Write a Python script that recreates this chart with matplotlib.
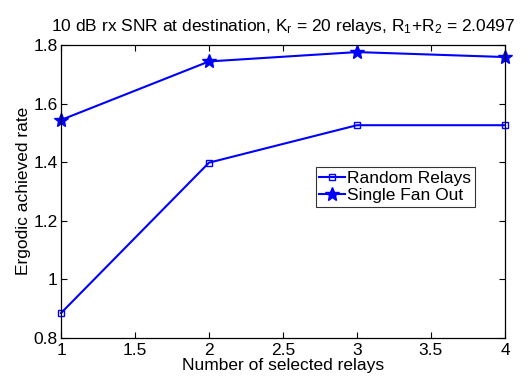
import matplotlib
matplotlib.use("Agg")
import matplotlib.pyplot as plt

plt.rcParams['font.family'] = ['Liberation Sans', 'DejaVu Sans']
plt.rcParams['mathtext.fontset'] = 'custom'
plt.rcParams['mathtext.rm'] = 'Liberation Sans'
plt.rcParams['mathtext.it'] = 'Liberation Sans'

x = [1, 2, 3, 4]
random_relays = [0.884, 1.398, 1.526, 1.526]
single_fan_out = [1.544, 1.744, 1.776, 1.759]
xticks = [1, 1.5, 2, 2.5, 3, 3.5, 4]
xticklabels = ['1', '1.5', '2', '2.5', '3', '3.5', '4']
yticks = [0.8, 1.0, 1.2, 1.4, 1.6, 1.8]
yticklabels = ['0.8', '1', '1.2', '1.4', '1.6', '1.8']

FS = 12.5
fig = plt.figure(figsize=(5.26, 3.85), dpi=100)
ax = fig.add_axes([0.116, 0.123, 0.844, 0.760])
ax.plot(x, random_relays, color='#0000ff', lw=1.5, marker='s', ms=5,
        mfc='none', mec='#0000ff', mew=1.0, label='Random Relays', clip_on=False)
ax.plot(x, single_fan_out, color='#0000ff', lw=1.5, marker='*', ms=10,
        mfc='#0000ff', mec='#0000ff', label='Single Fan Out', clip_on=False)
ax.set_xlim(1, 4)
ax.set_ylim(0.8, 1.8)
ax.set_xticks(xticks)
ax.set_xticklabels(xticklabels)
ax.set_yticks(yticks)
ax.set_yticklabels(yticklabels)
ax.tick_params(direction='in', top=True, right=True, labelsize=FS, length=4, width=0.8)
ax.tick_params(axis='x', pad=3.5)
ax.tick_params(axis='y', pad=2.5)
for s in ax.spines.values():
    s.set_linewidth(0.9)
ax.set_xlabel('Number of selected relays', fontsize=FS, labelpad=0.5)
ax.set_ylabel('Ergodic achieved rate', fontsize=FS, labelpad=2)
ax.set_title(r'10 dB rx SNR at destination, K$_{\rm r}$ = 20 relays, R$_{\rm 1}$+R$_{\rm 2}$ = 2.0497',
             fontsize=FS, pad=10)
leg = ax.legend(loc='upper left', bbox_to_anchor=(0.574, 0.582), fontsize=FS,
                frameon=True, fancybox=False, edgecolor='black', borderpad=0.2,
                handlelength=1.5, handletextpad=0.1, labelspacing=0.12, borderaxespad=0)
leg.get_frame().set_linewidth(0.8)
fig.savefig('out.png', dpi=100)
